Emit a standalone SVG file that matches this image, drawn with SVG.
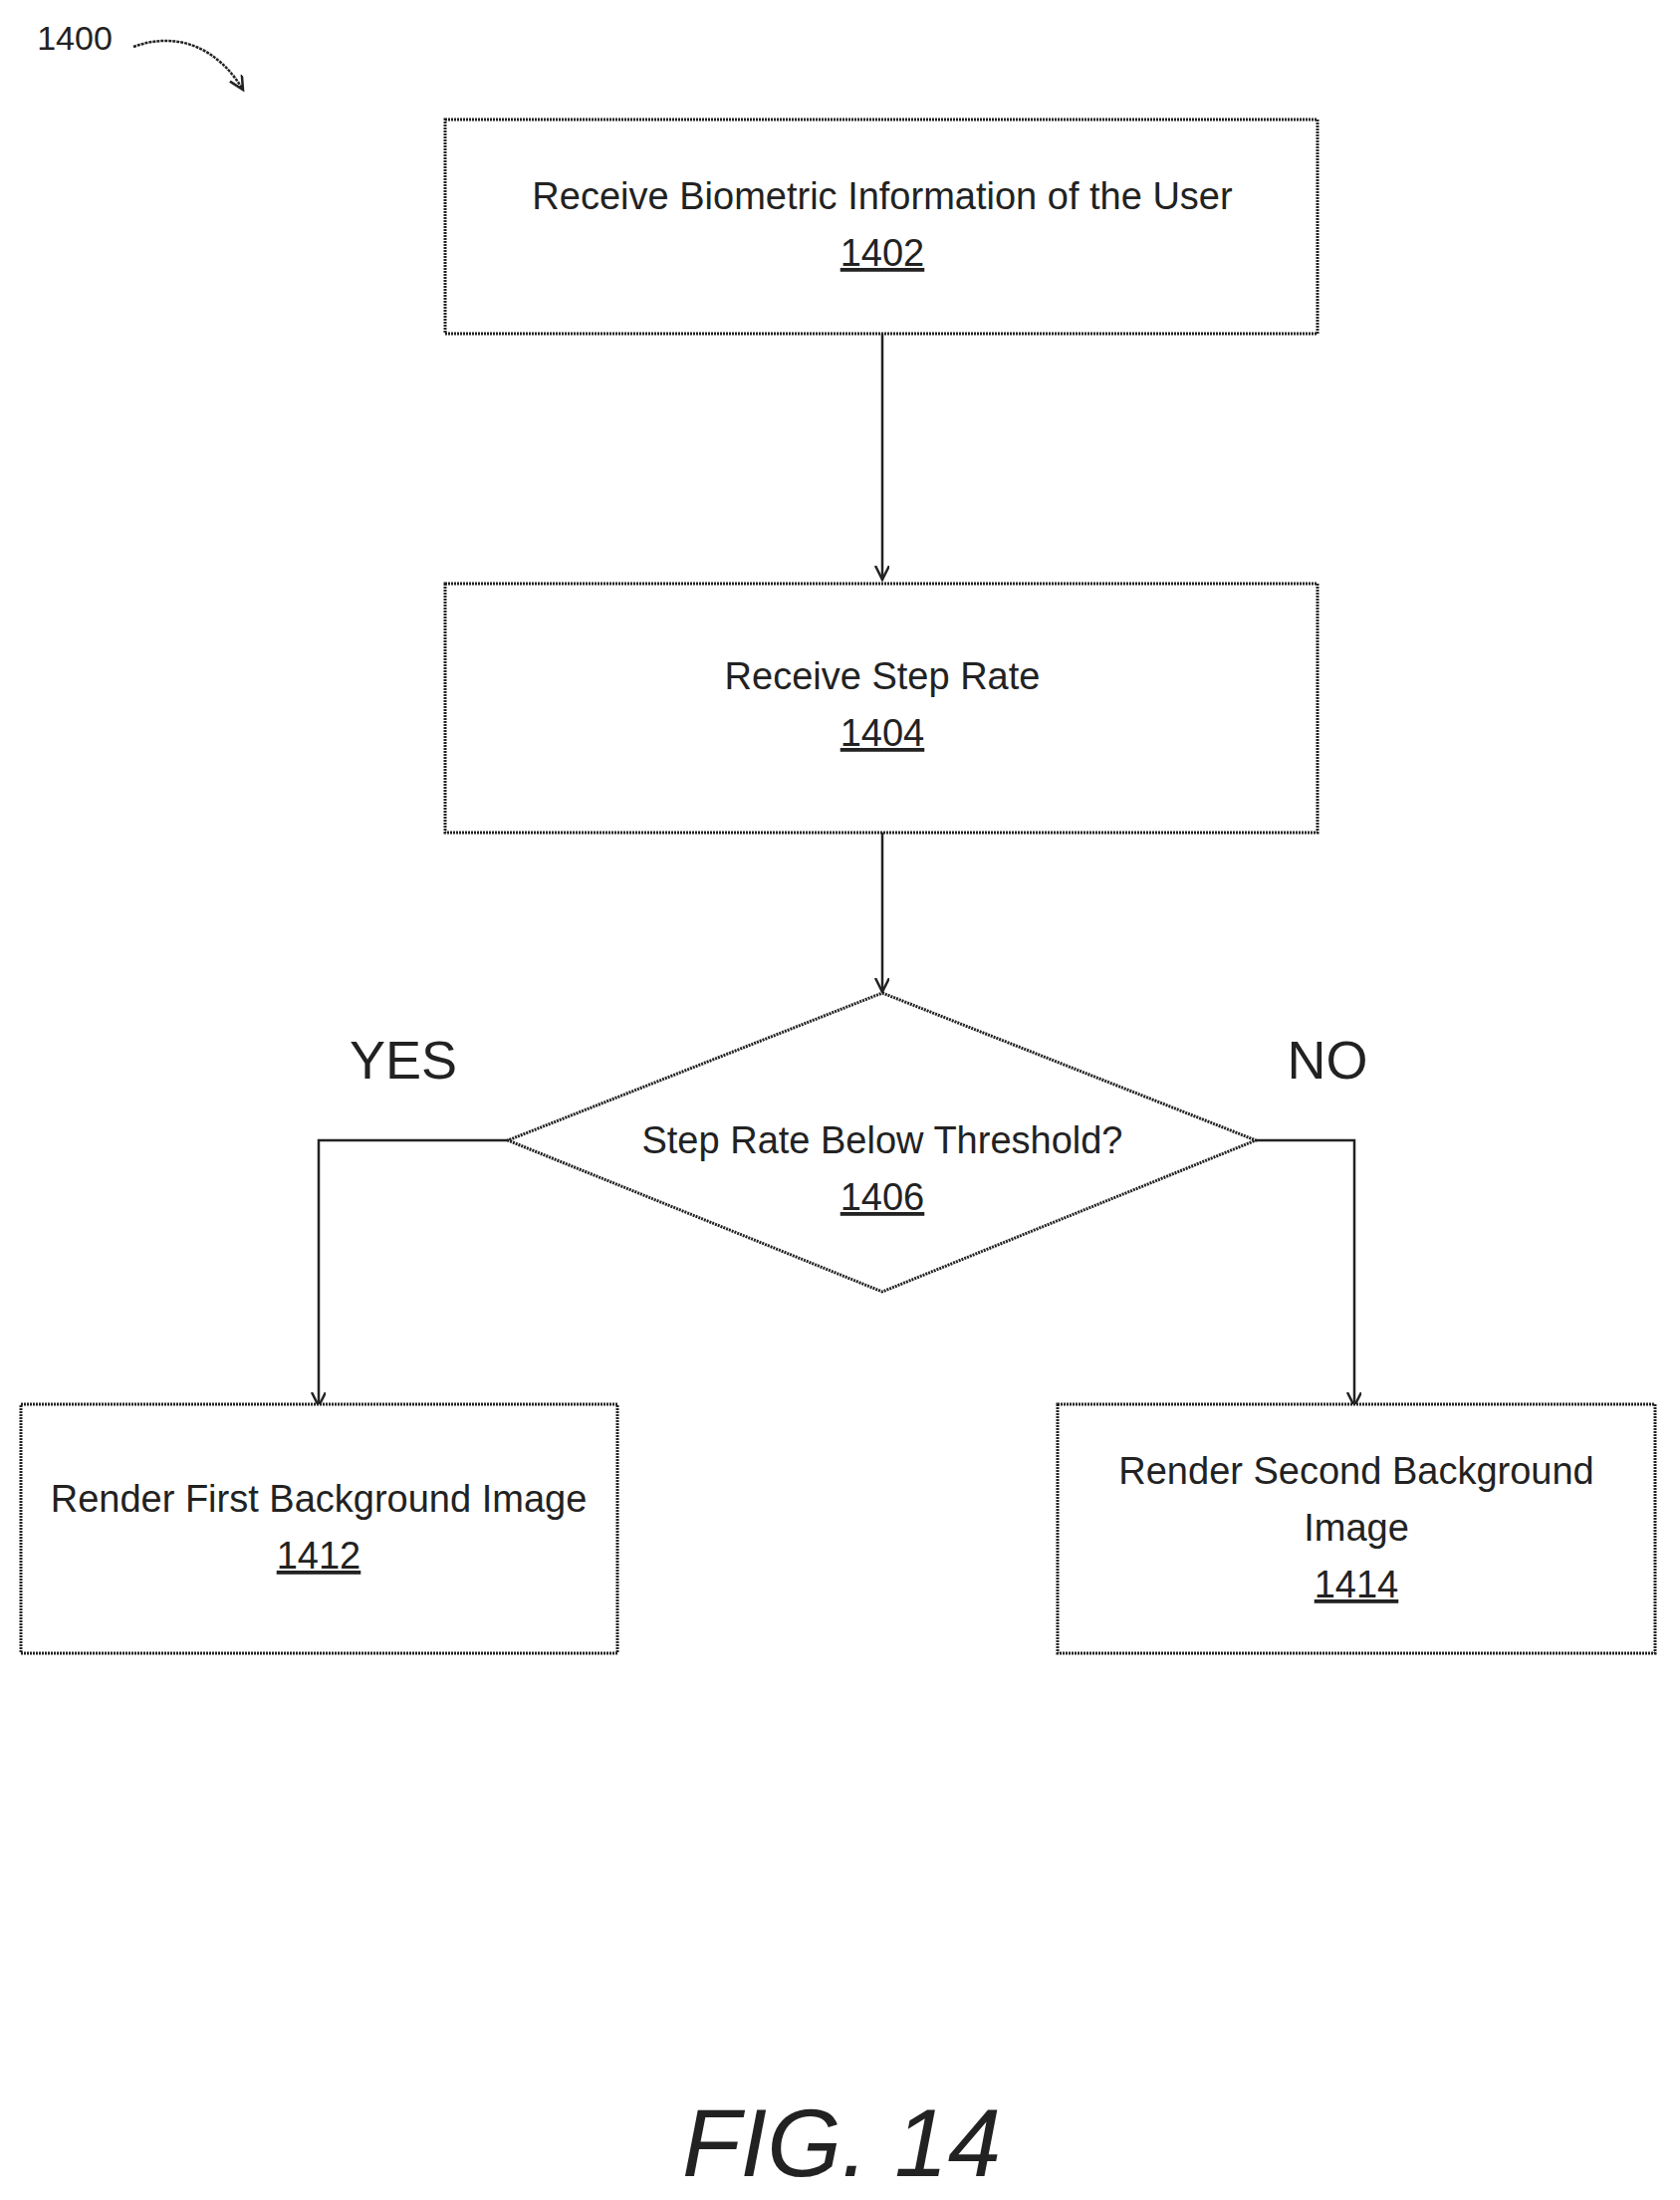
<svg xmlns="http://www.w3.org/2000/svg" width="1687" height="2209" viewBox="0 0 1687 2209">
<style>
.b{fill:#fff;stroke:#222;stroke-width:3;stroke-dasharray:2 1}
.t{font-family:"Liberation Sans",Arial,sans-serif;font-size:38px;fill:#222;text-anchor:middle}
.l{fill:none;stroke:#222;stroke-width:2.5}
</style>
<defs><marker id="a" markerWidth="20" markerHeight="20" refX="14" refY="7" orient="auto" markerUnits="userSpaceOnUse"><path d="M0,0 L14,7 L0,14" fill="none" stroke="#222" stroke-width="2.5"/></marker></defs>
<rect width="1687" height="2209" fill="#fff"/>
<text x="75" y="50" class="t" style="font-size:34px">1400</text>
<g id="connectors">
<path class="l" d="M134,47 C180,30 220,50 244,90" stroke-dasharray="3 1" marker-end="url(#a)"/>
<path class="l" d="M886,335 V582" marker-end="url(#a)"/>
<path class="l" d="M886,836 V996" marker-end="url(#a)"/>
<path class="l" d="M510,1145 H320 V1412" marker-end="url(#a)"/>
<path class="l" d="M1261,1145 H1360 V1412" marker-end="url(#a)"/>
</g>
<g id="n1402"><rect class="b" x="447" y="120" width="876" height="215"/>
<text class="t" x="886" y="210">Receive Biometric Information of the User</text>
<text class="t" x="886" y="267" text-decoration="underline">1402</text></g>
<g id="n1404"><rect class="b" x="447" y="586" width="876" height="250"/>
<text class="t" x="886" y="692">Receive Step Rate</text>
<text class="t" x="886" y="749" text-decoration="underline">1404</text></g>
<g id="n1406"><polygon class="b" stroke="#555" stroke-width="1.5" stroke-dasharray="6 3" points="886,997 1261,1145 886,1297 510,1145"/>
<text class="t" x="886" y="1158">Step Rate Below Threshold?</text>
<text class="t" x="886" y="1215" text-decoration="underline">1406</text></g>
<text class="t" x="405" y="1083" style="font-size:54px">YES</text>
<text class="t" x="1333" y="1083" style="font-size:54px">NO</text>
<g id="n1412"><rect class="b" x="21" y="1410" width="599" height="250"/>
<text class="t" x="320" y="1518">Render First Background Image</text>
<text class="t" x="320" y="1575" text-decoration="underline">1412</text></g>
<g id="n1414"><rect class="b" x="1062" y="1410" width="600" height="250"/>
<text class="t" x="1362" y="1490">Render Second Background</text>
<text class="t" x="1362" y="1547">Image</text>
<text class="t" x="1362" y="1604" text-decoration="underline">1414</text></g>
<text class="t" x="845" y="2185" style="font-size:96px;font-style:italic">FIG. 14</text>
</svg>
